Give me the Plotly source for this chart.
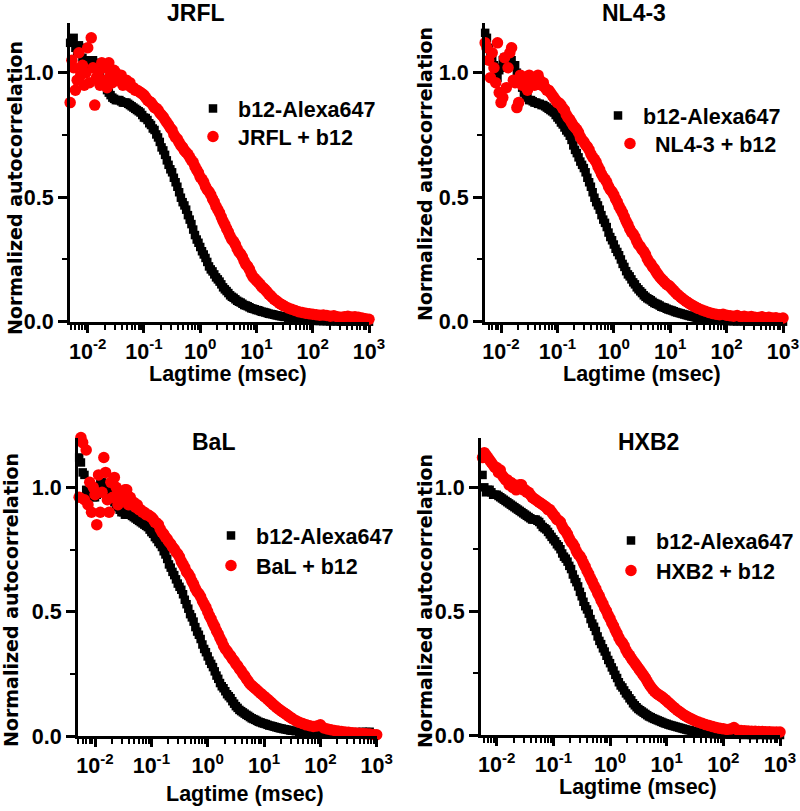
import plotly.graph_objects as go

# ---------------- data ----------------
lagtime = [
    # start (32 per decade)
    0.00487, 0.005233, 0.005623, 0.006043, 0.006494, 0.006978, 0.007499, 0.008058,
    0.00866, 0.009306,
    0.01, 0.01075, 0.01155, 0.01241, 0.01334, 0.01433, 0.0154, 0.01655,
    0.01778, 0.01911, 0.02054, 0.02207, 0.02371, 0.02548, 0.02738, 0.02943,
    0.03162, 0.03398, 0.03652, 0.03924, 0.04217, 0.04532, 0.0487, 0.05233,
    0.05623, 0.06043, 0.06494, 0.06978, 0.07499, 0.08058, 0.0866, 0.09306,
    # middle (32 per decade)
    0.1, 0.1075, 0.1155, 0.1241, 0.1334, 0.1433, 0.154, 0.1655,
    0.1778, 0.1911, 0.2054, 0.2207, 0.2371, 0.2548, 0.2738, 0.2943,
    0.3162, 0.3398, 0.3652, 0.3924, 0.4217, 0.4532, 0.487, 0.5233,
    0.5623, 0.6043, 0.6494, 0.6978, 0.7499, 0.8058, 0.866, 0.9306,
    1.0, 1.075, 1.155, 1.241, 1.334, 1.433, 1.54, 1.655,
    1.778, 1.911, 2.054, 2.207, 2.371, 2.548, 2.738, 2.943,
    3.162, 3.398, 3.652, 3.924, 4.217, 4.532, 4.87, 5.233,
    5.623, 6.043, 6.494, 6.978, 7.499, 8.058, 8.66, 9.306,
    10.0, 10.75, 11.55, 12.41, 13.34, 14.33, 15.4, 16.55,
    17.78, 19.11, 20.54, 22.07, 23.71, 25.48, 27.38, 29.43,
    31.62,
    # tail (16 per decade)
    36.52, 42.17, 48.7, 56.23, 64.94, 74.99, 86.6,
    100.0, 115.5, 133.4, 154.0, 177.8, 205.4, 237.1, 273.8,
    316.2, 365.2, 421.7, 487.0, 562.3, 649.4, 749.9, 866.0,
    1000.0,
]

jrfl_free = [
    1.12, 1.13, 1.14, 1.10, 1.08, 1.11, 1.10, 1.06, 1.04, 1.05,
    1.05, 1.04, 1.03, 1.05, 1.04, 1.03, 1.02, 1.00,
    0.97, 0.96, 0.95, 0.93, 0.92, 0.91, 0.90, 0.895,
    0.89, 0.89, 0.89, 0.885, 0.88, 0.88, 0.88, 0.875,
    0.87, 0.865, 0.86, 0.855, 0.85, 0.845, 0.84, 0.83,
    0.82, 0.818, 0.81, 0.797, 0.79, 0.776, 0.77, 0.752,
    0.74, 0.722, 0.70, 0.688, 0.67, 0.648, 0.63, 0.612,
    0.60, 0.578, 0.56, 0.542, 0.52, 0.498, 0.48, 0.467,
    0.45, 0.428, 0.41, 0.392, 0.37, 0.348, 0.33, 0.317,
    0.30, 0.283, 0.27, 0.256, 0.24, 0.222, 0.21, 0.202,
    0.19, 0.178, 0.17, 0.161, 0.15, 0.138, 0.13, 0.123,
    0.115, 0.106, 0.10, 0.096, 0.09, 0.084, 0.08, 0.077,
    0.072, 0.067, 0.065, 0.062, 0.058, 0.054, 0.052, 0.05,
    0.047, 0.046, 0.043, 0.040, 0.039, 0.037, 0.035, 0.032,
    0.031, 0.030, 0.028, 0.026, 0.025, 0.023, 0.022, 0.021,
    0.019,
    0.016, 0.014, 0.012, 0.010, 0.008, 0.006, 0.005,
    0.004, 0.003, 0.003, 0.002, 0.002, 0.001, 0.002, 0.001,
    0.0, 0.001, 0.0, 0.001, 0.0, 0.0, 0.001, 0.0,
    0.0,
]
jrfl_bound = [
    0.88, 1.05, 1.02, 0.93, 0.97, 1.08, 0.99, 1.03, 0.95, 1.00,
    1.10, 0.96, 1.14, 1.02, 0.87, 0.98, 1.00, 0.95,
    1.04, 0.97, 1.02, 0.94, 1.04, 0.99, 0.96, 1.01,
    1.00, 0.97, 0.98, 0.99, 0.95, 0.97, 0.97, 0.95,
    0.96, 0.94, 0.94, 0.93, 0.93, 0.925, 0.92, 0.915,
    0.91, 0.90, 0.89, 0.885, 0.88, 0.87, 0.86, 0.857,
    0.85, 0.838, 0.83, 0.822, 0.81, 0.80, 0.79, 0.778,
    0.77, 0.752, 0.74, 0.733, 0.72, 0.708, 0.70, 0.688,
    0.68, 0.672, 0.66, 0.648, 0.64, 0.623, 0.61, 0.598,
    0.58, 0.572, 0.56, 0.543, 0.53, 0.522, 0.51, 0.493,
    0.48, 0.463, 0.45, 0.437, 0.42, 0.403, 0.39, 0.374,
    0.36, 0.343, 0.33, 0.322, 0.31, 0.293, 0.28, 0.272,
    0.26, 0.243, 0.23, 0.222, 0.21, 0.193, 0.18, 0.173,
    0.165, 0.158, 0.15, 0.14, 0.135, 0.128, 0.12, 0.111,
    0.105, 0.097, 0.09, 0.085, 0.08, 0.074, 0.07, 0.066,
    0.062,
    0.055, 0.05, 0.045, 0.04, 0.037, 0.034, 0.032,
    0.03, 0.028, 0.026, 0.027, 0.025, 0.022, 0.024, 0.02,
    0.018, 0.02, 0.022, 0.019, 0.02, 0.018, 0.015, 0.012,
    0.01,
]

nl43_free = [
    1.15, 1.16, 1.14, 1.10, 1.08, 1.05, 1.03, 1.00, 0.98, 1.01,
    1.02, 1.05, 1.06, 1.04, 1.04, 1.05, 1.05, 1.03,
    1.03, 1.00, 0.99, 0.96, 0.94, 0.92, 0.91, 0.90,
    0.89, 0.89, 0.885, 0.88, 0.88, 0.875, 0.875, 0.87,
    0.87, 0.865, 0.86, 0.855, 0.85, 0.845, 0.84, 0.83,
    0.82, 0.812, 0.80, 0.792, 0.78, 0.768, 0.76, 0.747,
    0.73, 0.708, 0.69, 0.677, 0.66, 0.643, 0.63, 0.617,
    0.60, 0.578, 0.56, 0.542, 0.52, 0.498, 0.48, 0.467,
    0.45, 0.428, 0.41, 0.397, 0.38, 0.358, 0.34, 0.327,
    0.31, 0.293, 0.28, 0.267, 0.25, 0.232, 0.22, 0.203,
    0.19, 0.182, 0.17, 0.158, 0.15, 0.138, 0.13, 0.122,
    0.115, 0.106, 0.10, 0.094, 0.09, 0.086, 0.08, 0.075,
    0.072, 0.069, 0.065, 0.06, 0.058, 0.056, 0.052, 0.049,
    0.047, 0.045, 0.042, 0.039, 0.037, 0.035, 0.033, 0.031,
    0.029, 0.027, 0.025, 0.023, 0.021, 0.02, 0.018, 0.016,
    0.015,
    0.012, 0.010, 0.008, 0.006, 0.005, 0.004, 0.003,
    0.003, 0.002, 0.002, 0.001, 0.002, 0.001, 0.0, 0.001,
    0.0, 0.001, 0.0, 0.0, 0.001, 0.0, 0.0, 0.001,
    0.0,
]
nl43_bound = [
    0.80, 1.12, 1.10, 1.05, 0.98, 1.08, 1.02, 0.96, 1.12, 0.92,
    0.88, 0.90, 1.06, 0.94, 1.02, 1.08, 1.10, 0.97,
    0.96, 0.86, 0.88, 0.99, 0.95, 0.98, 0.96, 0.93,
    0.99, 0.97, 0.98, 0.95, 0.96, 0.99, 0.97, 0.95,
    0.96, 0.94, 0.93, 0.93, 0.92, 0.91, 0.90, 0.89,
    0.88, 0.878, 0.87, 0.857, 0.85, 0.832, 0.82, 0.812,
    0.80, 0.788, 0.78, 0.772, 0.76, 0.742, 0.73, 0.722,
    0.71, 0.702, 0.69, 0.673, 0.66, 0.652, 0.64, 0.623,
    0.61, 0.593, 0.58, 0.572, 0.56, 0.543, 0.53, 0.522,
    0.51, 0.493, 0.48, 0.463, 0.45, 0.437, 0.42, 0.403,
    0.39, 0.373, 0.36, 0.352, 0.34, 0.323, 0.31, 0.302,
    0.29, 0.282, 0.27, 0.253, 0.24, 0.232, 0.22, 0.212,
    0.20, 0.19, 0.18, 0.172, 0.165, 0.157, 0.15, 0.146,
    0.14, 0.132, 0.125, 0.117, 0.11, 0.104, 0.098, 0.092,
    0.087, 0.082, 0.077, 0.072, 0.068, 0.064, 0.06, 0.056,
    0.053,
    0.047, 0.042, 0.037, 0.033, 0.03, 0.028, 0.03,
    0.026, 0.024, 0.022, 0.025, 0.02, 0.022, 0.019, 0.021,
    0.018, 0.017, 0.02, 0.016, 0.018, 0.015, 0.016, 0.013,
    0.015,
]

bal_free = [
    1.15, 1.12, 1.10, 1.06, 1.05, 0.99, 0.97, 0.98, 0.99, 0.96,
    0.96, 0.97, 1.00, 1.02, 1.02, 1.01, 1.01, 1.00,
    0.98, 0.96, 0.95, 0.94, 0.93, 0.92, 0.91, 0.90,
    0.90, 0.89, 0.89, 0.89, 0.89, 0.885, 0.88, 0.875,
    0.87, 0.865, 0.86, 0.855, 0.85, 0.845, 0.84, 0.83,
    0.82, 0.813, 0.80, 0.792, 0.78, 0.772, 0.76, 0.743,
    0.73, 0.712, 0.69, 0.677, 0.66, 0.647, 0.63, 0.613,
    0.60, 0.588, 0.57, 0.548, 0.53, 0.512, 0.49, 0.477,
    0.46, 0.438, 0.42, 0.407, 0.39, 0.368, 0.35, 0.337,
    0.32, 0.303, 0.29, 0.277, 0.26, 0.243, 0.23, 0.213,
    0.20, 0.192, 0.18, 0.168, 0.16, 0.152, 0.14, 0.13,
    0.12, 0.113, 0.105, 0.10, 0.095, 0.09, 0.085, 0.081,
    0.076, 0.071, 0.068, 0.065, 0.061, 0.057, 0.055, 0.052,
    0.05, 0.048, 0.045, 0.042, 0.041, 0.039, 0.037, 0.035,
    0.033, 0.031, 0.03, 0.028, 0.027, 0.025, 0.024, 0.022,
    0.021,
    0.019, 0.017, 0.015, 0.013, 0.012, 0.011, 0.01,
    0.01, 0.011, 0.012, 0.01, 0.013, 0.012, 0.014, 0.013,
    0.015, 0.014, 0.016, 0.015, 0.017, 0.016, 0.017, None,
    None,
]
bal_bound = [
    0.92, 0.96, 1.20, 1.18, 0.95, 1.15, 0.93, 1.02, 0.90, 1.00,
    0.97, 0.85, 1.05, 0.90, 0.98, 1.12, 1.06, 0.95,
    0.90, 1.02, 0.96, 1.04, 1.00, 0.93, 0.98, 0.96,
    0.95, 0.99, 0.99, 0.93, 0.96, 0.94, 0.94, 0.92,
    0.93, 0.91, 0.91, 0.90, 0.90, 0.89, 0.89, 0.885,
    0.88, 0.872, 0.86, 0.857, 0.85, 0.833, 0.82, 0.812,
    0.80, 0.792, 0.78, 0.772, 0.76, 0.752, 0.74, 0.732,
    0.72, 0.702, 0.69, 0.677, 0.66, 0.652, 0.64, 0.623,
    0.61, 0.593, 0.58, 0.572, 0.56, 0.543, 0.53, 0.517,
    0.50, 0.483, 0.47, 0.453, 0.44, 0.423, 0.41, 0.393,
    0.38, 0.363, 0.35, 0.342, 0.33, 0.322, 0.31, 0.302,
    0.29, 0.282, 0.27, 0.262, 0.25, 0.242, 0.23, 0.22,
    0.21, 0.203, 0.197, 0.191, 0.185, 0.178, 0.172, 0.166,
    0.16, 0.154, 0.148, 0.141, 0.135, 0.128, 0.122, 0.116,
    0.11, 0.105, 0.10, 0.095, 0.09, 0.085, 0.08, 0.075,
    0.07,
    0.062, 0.055, 0.05, 0.045, 0.041, 0.038, 0.04,
    0.045, 0.032, 0.028, 0.025, 0.022, 0.02, 0.018, 0.016,
    0.015, 0.013, 0.012, 0.011, 0.01, 0.009, 0.008, 0.006,
    0.005,
]

hxb2_free = [
    1.12, 1.08, 1.05, 1.00, 0.98, 0.99, 0.99, 0.98, 0.97, 0.97,
    0.97, 0.965, 0.96, 0.955, 0.95, 0.945, 0.94, 0.935,
    0.93, 0.925, 0.92, 0.915, 0.91, 0.905, 0.90, 0.895,
    0.89, 0.885, 0.88, 0.875, 0.87, 0.87, 0.87, 0.865,
    0.86, 0.85, 0.84, 0.835, 0.83, 0.82, 0.81, 0.80,
    0.79, 0.782, 0.77, 0.762, 0.75, 0.733, 0.72, 0.712,
    0.70, 0.683, 0.67, 0.648, 0.63, 0.617, 0.60, 0.578,
    0.56, 0.538, 0.52, 0.507, 0.49, 0.468, 0.45, 0.437,
    0.42, 0.398, 0.38, 0.367, 0.35, 0.337, 0.32, 0.303,
    0.29, 0.273, 0.26, 0.243, 0.23, 0.213, 0.20, 0.192,
    0.18, 0.168, 0.16, 0.148, 0.14, 0.128, 0.12, 0.112,
    0.105, 0.10, 0.095, 0.09, 0.085, 0.08, 0.075, 0.072,
    0.068, 0.065, 0.062, 0.059, 0.056, 0.053, 0.05, 0.047,
    0.045, 0.042, 0.04, 0.038, 0.036, 0.034, 0.032, 0.03,
    0.028, 0.026, 0.024, 0.022, 0.02, 0.019, 0.017, 0.015,
    0.014,
    0.011, 0.009, 0.007, 0.005, 0.004, 0.003, 0.003,
    0.002, 0.002, 0.001, 0.002, 0.001, 0.001, 0.0, 0.001,
    0.0, 0.0, 0.001, 0.0, 0.0, 0.0, 0.0, 0.001,
    0.0,
]
hxb2_bound = [
    1.10, 1.13, 1.12, 1.14, 1.13, 1.12, 1.11, 1.10, 1.09, 1.08,
    1.08, 1.06, 1.07, 1.05, 1.04, 1.03, 1.03, 1.01,
    1.02, 1.00, 1.01, 0.99, 1.00, 1.01, 1.01, 0.99,
    0.99, 0.98, 0.98, 0.97, 0.96, 0.955, 0.95, 0.945,
    0.94, 0.935, 0.93, 0.925, 0.92, 0.91, 0.91, 0.90,
    0.89, 0.882, 0.87, 0.866, 0.86, 0.843, 0.83, 0.822,
    0.81, 0.793, 0.78, 0.772, 0.76, 0.742, 0.73, 0.722,
    0.71, 0.693, 0.68, 0.663, 0.65, 0.633, 0.62, 0.603,
    0.59, 0.573, 0.56, 0.543, 0.53, 0.513, 0.50, 0.483,
    0.47, 0.453, 0.44, 0.423, 0.41, 0.393, 0.38, 0.372,
    0.36, 0.343, 0.33, 0.322, 0.31, 0.30, 0.29, 0.28,
    0.27, 0.26, 0.25, 0.24, 0.23, 0.217, 0.205, 0.195,
    0.185, 0.177, 0.17, 0.165, 0.16, 0.155, 0.15, 0.144,
    0.138, 0.131, 0.125, 0.118, 0.112, 0.106, 0.10, 0.095,
    0.09, 0.085, 0.08, 0.076, 0.072, 0.068, 0.065, 0.061,
    0.058,
    0.052, 0.047, 0.042, 0.038, 0.034, 0.03, 0.027,
    0.025, 0.022, 0.024, 0.03, 0.02, 0.018, 0.017, 0.016,
    0.015, 0.015, 0.014, 0.014, 0.013, 0.013, 0.012, 0.012,
    0.012,
]

panel_titles = ["JRFL", "NL4-3", "BaL", "HXB2"]
free_label = "b12-Alexa647"
bound_labels = ["JRFL + b12", "NL4-3 + b12", "BaL + b12", "HXB2 + b12"]
free_series = [jrfl_free, nl43_free, bal_free, hxb2_free]
bound_series = [jrfl_bound, nl43_bound, bal_bound, hxb2_bound]

x_tickvals = [0.01, 0.1, 1, 10, 100, 1000]
x_ticktext = ["10<sup>-2</sup>", "10<sup>-1</sup>", "10<sup>0</sup>",
              "10<sup>1</sup>", "10<sup>2</sup>", "10<sup>3</sup>"]
y_tickvals = [0.0, 0.5, 1.0]
y_ticktext = ["0.0", "0.5", "1.0"]
y_axis_title = "Normalized autocorrelation"
x_axis_title = "Lagtime (msec)"

# ---------------- layout geometry (pixels) ----------------
W, H = 800, 811
FONT = "Arial, 'Liberation Sans', sans-serif"
WIDE_FONT = "'DejaVu Sans', sans-serif"
FS = 21.5

geo = [
    dict(l=70, r=369, b=321.7, t=22.9, xl=-2.315,
         title=(196, 13), ytitle=(15, 188), xtitle=(228, 374),
         leg1=(240, 110), leg2=(240, 138)),
    dict(l=485, r=783, b=321.7, t=22.9, xl=-2.284,
         title=(634, 13), ytitle=(425, 174), xtitle=(642, 374),
         leg1=(645, 117), leg2=(657, 145)),
    dict(l=78, r=376.7, b=736, t=437.6, xl=-2.302,
         title=(213, 442), ytitle=(11, 600), xtitle=(245, 794),
         leg1=(258, 537), leg2=(258, 567)),
    dict(l=481, r=780, b=735, t=437.8, xl=-2.277,
         title=(648, 442), ytitle=(425, 601), xtitle=(638, 787),
         leg1=(658, 542), leg2=(658, 572)),
]
LEG_DX = 52   # legend left edge -> text start
LEG_DY = 22   # legend top edge -> row centre

minor_x = [m * 10.0 ** d for d in range(-3, 3) for m in range(2, 10)]

fig = go.Figure()
annotations = []
lay = {}

for i in range(4):
    g = geo[i]
    n = "" if i == 0 else str(i + 1)
    xa, ya = "x" + n, "y" + n
    la = "legend" if i == 0 else "legend" + str(2 * i + 1)
    lb = "legend" + str(2 * i + 2)
    fig.add_trace(go.Scatter(
        x=lagtime, y=free_series[i], mode="markers", name=free_label,
        xaxis=xa, yaxis=ya, legend=la, cliponaxis=False,
        marker=dict(symbol="square", size=8.5, color="black", line=dict(width=0)),
    ))
    fig.add_trace(go.Scatter(
        x=lagtime, y=bound_series[i], mode="markers", name=bound_labels[i],
        xaxis=xa, yaxis=ya, legend=lb, cliponaxis=False,
        marker=dict(symbol="circle", size=11.5, color="#ff0000", line=dict(width=0)),
    ))

    tickfont = dict(family=FONT, size=FS, color="black", weight="bold")
    lay["xaxis" + n] = dict(
        type="log", domain=[g["l"] / W, g["r"] / W], range=[g["xl"], 3.0],
        anchor=ya, showgrid=False, zeroline=False, automargin=False,
        showline=True, linecolor="black", linewidth=3,
        ticks="outside", ticklen=8, tickwidth=2.5, tickcolor="black",
        tickvals=x_tickvals, ticktext=x_ticktext, tickfont=tickfont,
        minor=dict(ticks="outside", ticklen=5, tickwidth=2, tickcolor="black",
                   tickvals=minor_x, showgrid=False),
    )
    lay["yaxis" + n] = dict(
        domain=[1 - g["b"] / H, 1 - g["t"] / H], range=[0, 1.2],
        anchor=xa, showgrid=False, zeroline=False, automargin=False,
        showline=True, linecolor="black", linewidth=3,
        ticks="outside", ticklen=9, tickwidth=2.5, tickcolor="black",
        tickvals=y_tickvals, ticktext=y_ticktext, tickfont=tickfont,
        minor=dict(ticks="outside", ticklen=5, tickwidth=2, tickcolor="black",
                   tickvals=[0.25, 0.75], showgrid=False),
    )
    for lid, pos in ((la, g["leg1"]), (lb, g["leg2"])):
        lay[lid] = dict(
            x=(pos[0] - LEG_DX) / W, y=1 - (pos[1] - LEG_DY) / H,
            xanchor="left", yanchor="top",
            bgcolor="rgba(0,0,0,0)", borderwidth=0, itemwidth=40,
            font=dict(family=FONT, size=FS, color="black", weight="bold"),
            itemsizing="trace",
        )
    afont = dict(family=FONT, size=FS, color="black", weight="bold")
    annotations.append(dict(text=panel_titles[i], x=g["title"][0] / W, y=1 - g["title"][1] / H,
                            xref="paper", yref="paper", showarrow=False,
                            xanchor="center", yanchor="middle",
                            font=dict(family=FONT, size=23, color="black", weight="bold")))
    annotations.append(dict(text=y_axis_title, x=g["ytitle"][0] / W, y=1 - g["ytitle"][1] / H,
                            xref="paper", yref="paper", showarrow=False, textangle=-90,
                            xanchor="center", yanchor="middle",
                            font=dict(family=WIDE_FONT, size=19, color="black", weight="bold")))
    annotations.append(dict(text=x_axis_title, x=g["xtitle"][0] / W, y=1 - g["xtitle"][1] / H,
                            xref="paper", yref="paper", showarrow=False,
                            xanchor="center", yanchor="middle", font=afont))

fig.update_layout(
    width=W, height=H, margin=dict(l=0, r=0, t=0, b=0, autoexpand=False),
    paper_bgcolor="white", plot_bgcolor="white",
    showlegend=True, annotations=annotations, **lay,
)

fig.write_html("out.html",
               config={"displayModeBar": False},
               post_script="document.body.style.margin='0px';document.body.style.padding='0px';")
